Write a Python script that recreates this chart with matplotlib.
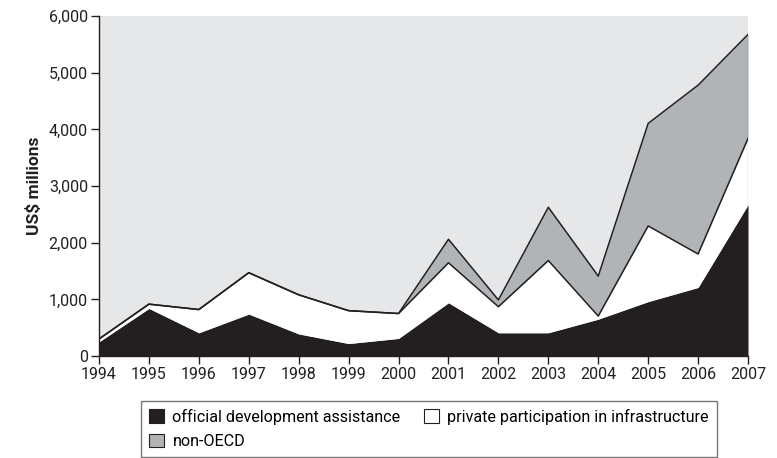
import numpy as np
import matplotlib
matplotlib.use("Agg")
import matplotlib.pyplot as plt
from matplotlib.patches import Patch
from matplotlib.ticker import FuncFormatter

plt.rcParams["font.family"] = ["Roboto", "DejaVu Sans"]

years = [1994, 1995, 1996, 1997, 1998, 1999, 2000, 2001, 2002, 2003, 2004, 2005, 2006, 2007]
# US$ millions, per series
oda = [250, 840, 410, 740, 390, 220, 310, 940, 410, 410, 650, 960, 1210, 2670]
ppi = [50, 75, 410, 730, 690, 580, 440, 705, 460, 1275, 55, 1335, 590, 1170]
non_oecd = [0, 0, 0, 0, 0, 0, 0, 415, 120, 940, 705, 1810, 2980, 1835]

labels = ["official development assistance", "private participation in infrastructure", "non-OECD"]
colors = ["#231f20", "#ffffff", "#b1b4b6"]
ink = "#231f20"

fig = plt.figure(figsize=(7.77, 4.58), dpi=100)
ax = fig.add_axes([0.1274, 0.2227, 0.8353, 0.7423])
ax.set_facecolor("#e6e7e9")

x = np.array(years)
y1 = np.array(oda, dtype=float)
y2 = y1 + np.array(ppi)
y3 = y2 + np.array(non_oecd)

ax.fill_between(x, 0, y1, color=colors[0], lw=0)
ax.fill_between(x, y1, y2, color=colors[1], lw=0)
ax.fill_between(x, y2, y3, color=colors[2], lw=0)
ax.plot(x, y2, color=ink, lw=1.1)
ax.plot(x, y3, color=ink, lw=1.1)
ax.plot([x[-1], x[-1]], [0, y3[-1]], color=ink, lw=0.8)

ax.set_xlim(1994, 2007)
ax.set_ylim(0, 6000)
ax.set_xticks(years)
ax.set_yticks(range(0, 6001, 1000))
ax.yaxis.set_major_formatter(FuncFormatter(lambda v, p: f"{int(v):,}"))
ax.tick_params(direction="out", length=6, width=1, color=ink, labelsize=11.5,
               labelcolor=ink, pad=2)
for s in ["top", "right"]:
    ax.spines[s].set_visible(False)
for s in ["left", "bottom"]:
    ax.spines[s].set_color(ink)
    ax.spines[s].set_linewidth(1)

ax.set_ylabel("US$ millions", fontsize=12.5, fontweight="bold", color=ink, labelpad=5)

handles = [Patch(facecolor=colors[0], edgecolor=ink, lw=0.8, label=labels[0]),
           Patch(facecolor=colors[2], edgecolor=ink, lw=0.8, label=labels[2]),
           Patch(facecolor=colors[1], edgecolor=ink, lw=0.8, label=labels[1])]
leg = fig.legend(handles=handles, ncol=2, loc="lower left", bbox_to_anchor=(0.1815, 0.002),
                 frameon=True, fancybox=False, fontsize=11.6, handlelength=0.95, handleheight=0.95,
                 handletextpad=0.5, columnspacing=1.45, labelspacing=0.55, borderpad=0.5,
                 borderaxespad=0.0)
leg.get_frame().set_edgecolor("#555555")
leg.get_frame().set_linewidth(1.0)

fig.savefig("out.png", dpi=100)
